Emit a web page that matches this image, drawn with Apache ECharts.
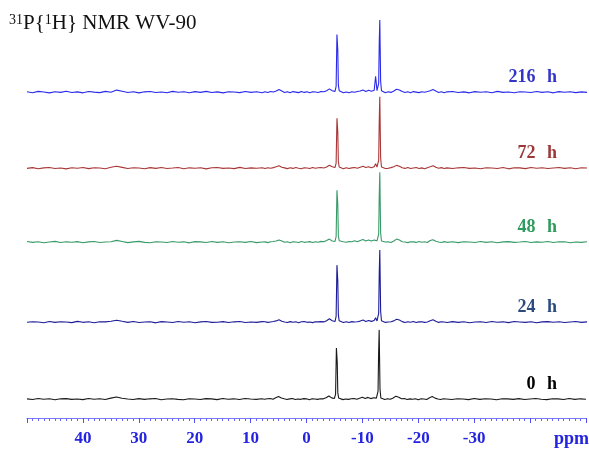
<!DOCTYPE html>
<html><head><meta charset="utf-8">
<script src="https://cdn.jsdelivr.net/npm/echarts@6/dist/echarts.min.js"></script>
<style>html,body{margin:0;padding:0;background:#fff}#c{width:589px;height:451px}</style>
</head><body><div id="c"></div>
<script>
// chemical shift sample positions (ppm)
const ppm = [
  50,49,48,47,46,45,44,43,42,41,40,39,38,37,36,35,34,33,32,31,30,29,28,27,26,25,24,23,22,21,20,19,18,17,16,15,14,13,12,11,10,9,8,
  7.5,7,6.5,6,5.5,5,4.5,4,3.5,3,2.5,2,1.5,1,0.5,0,-0.5,-1,-1.5,-2,-2.5,-3,
  -3.5,-4,-4.5,-5,-5.2,-5.35,-5.5,-5.6,-5.75,-6,-6.5,
  -7,-7.5,-8,-8.5,-9,-9.5,-10,-10.5,-11,-11.5,-12,
  -12.25,-12.5,-12.65,-12.8,-12.9,-13,-13.15,-13.3,-13.5,-14,
  -14.5,-15,-15.5,-16,-16.5,-17,-17.5,-18,-18.5,-19,-19.5,-20,-20.5,-21,-21.5,-22,-22.5,-23,-23.5,-24,-24.5,-25,
  -26,-27,-28,-29,-30,-31,-32,-33,-34,-35,-36,-37,-38,-39,-40,-41,-42,-43,-44,-45,-46,-47,-48,-49,-50
];
const spectrumLabels = ['216 h','72 h','48 h','24 h','0 h'];
const tickLabels = ['40','30','20','10','0','-10','-20','-30'];

const s216 = [
  0.5,-0.8,1,0.2,-1,0.6,-0.4,1.1,-0.6,0.3,-1,0.8,0,-0.7,1,-0.3,2.8,1.2,-0.5,0.6,-1,0.4,0.9,-0.6,0.2,-0.9,1,-0.2,0.5,-0.8,0.7,-0.4,1,-0.6,0.3,-1,0.6,0.1,-0.7,0.9,-0.3,0.5,-0.8,
  0.4,-0.6,0.8,0.2,1.6,3.5,1.4,-0.5,0.6,-0.9,0.7,0,-0.7,0.9,-0.4,0.5,-0.8,0.6,0.1,-0.6,0.8,0.5,
  2,4.5,2,1,8,80,58,10,2,-0.5,-1,
  0.2,-0.8,0.6,-0.3,0.8,1.5,3,1,2.5,1.2,2.5,
  22,2,3,12,68,100,15,2,0.5,-0.8,
  0.6,-0.4,1.5,4,3,0.8,-0.6,0.5,-0.9,0.7,0,-0.7,0.6,-0.3,0.8,2,3.5,1.4,-0.5,0.6,-0.8,0.4,
  0.9,-0.5,0.3,-1,0.7,-0.2,0.5,-0.8,1,-0.4,0.2,-0.9,0.6,0.1,-0.6,0.9,-0.3,0.4,-1,0.7,-0.2,0.5,-0.7,0.3,-0.4
];
const s72 = [
  -0.4,0.7,-0.9,0.3,0.8,-0.5,0.2,-1,0.6,-0.2,0.9,-0.7,0.4,0.1,-0.8,1.2,2.6,1,-0.6,0.5,0.2,-0.9,0.7,-0.3,0.8,-0.6,0.1,0.9,-0.8,0.4,-0.2,0.6,-1,0.5,0.8,-0.4,0.2,-0.7,1,-0.5,0.3,-0.2,0.6,
  -0.5,0.6,-0.2,0.7,1.8,3.2,1.2,0.3,-0.7,0.5,-0.4,0.8,-0.1,-0.8,0.6,0.2,-0.6,0.9,-0.3,0.4,0.9,0.2,
  1.5,4,1.8,0.8,7,69,50,9,1.5,-0.3,-0.8,
  0.5,-0.6,0.3,0.9,-0.2,1.2,2.5,0.8,2,0.6,1.8,
  6,1.5,2.5,11,66,99,14,1.5,0.3,-0.5,
  -0.3,0.7,1.8,3.8,2.6,0.5,-0.4,0.8,-0.6,0.2,0.9,-0.5,0.3,-0.8,0.6,1.8,3.2,1.2,-0.2,0.7,-0.6,0.3,
  -0.6,0.4,0.9,-0.3,0.2,-0.8,0.6,0.1,-0.5,0.8,-1,0.4,0.3,-0.7,0.9,-0.2,0.5,-0.6,0.2,0.8,-0.4,0.6,-0.9,0.4,0.1
];
const s48 = [
  0.8,-0.3,0.5,-0.9,0.2,1,-0.6,0.4,-0.2,0.7,-0.8,0.3,0.9,-0.5,0.1,0.6,2.4,0.9,-0.7,0.3,1,-0.4,-0.9,0.6,0.2,-0.5,0.8,-0.1,0.4,-1,0.7,0.3,-0.6,0.9,-0.3,0.5,-0.8,0.2,0.6,-0.4,0.9,-0.7,0.1,
  0.3,-0.7,0.5,0.9,1.5,3,1.6,-0.2,0.4,-0.8,0.6,0.1,-0.5,0.8,-0.3,0.2,0.7,-0.6,0.4,-0.2,1,0.4,
  2.2,4.2,1.6,1,7.5,72,52,9,2,-0.4,0.5,
  -0.3,0.8,0.4,1.8,0.5,2.2,3.5,1.5,3,1.4,2.8,
  5,1.8,3,11,65,97,13,1.6,0.4,0.2,
  0.5,-0.5,1.6,4.2,2.8,0.6,0.1,-0.7,0.6,0.3,-0.4,0.8,-0.2,0.5,-0.6,2.2,3.4,1.3,0.2,-0.5,0.7,-0.3,
  0.4,-0.7,0.6,0.2,-0.5,0.9,-0.3,0.5,-0.9,0.3,0.7,-0.4,0.1,0.8,-0.6,0.3,-0.2,0.9,-0.5,0.4,0.6,-0.8,0.2,-0.3,0.5
];
const s24 = [
  -0.2,0.6,0.1,-0.8,0.9,-0.4,0.5,0.2,-0.7,1,-0.3,0.4,-0.9,0.6,0.3,1.1,2.7,1.1,-0.4,0.8,-0.6,0.2,0.5,-1,0.7,0.1,-0.5,0.9,-0.2,0.6,-0.8,0.3,0.8,-0.4,-0.1,0.7,-0.6,0.4,0.9,-0.5,0.2,-0.3,0.7,
  0.6,-0.4,0.2,0.8,1.7,3.3,1.3,0.1,-0.6,0.7,-0.2,0.4,-0.8,0.5,0.9,-0.3,0.2,-0.7,0.6,0.3,0.7,0.3,
  2,4.6,2,0.8,8,79,57,10,1.8,-0.2,-0.6,
  0.4,-0.5,0.7,0.1,0.6,1.4,2.8,0.9,2.2,1,2.3,
  6,1.6,2.8,12,68,100,15,1.8,0.2,-0.4,
  0.2,0.6,1.7,3.9,2.9,0.7,-0.5,0.4,-0.3,0.8,-0.6,0.3,0.6,-0.4,0.2,1.9,3.3,1.2,-0.4,0.5,0.1,-0.6,
  0.7,-0.3,0.5,-0.8,0.2,0.6,-0.5,0.9,-0.1,0.4,-0.7,0.8,0.2,-0.4,0.6,-0.9,0.3,0.7,-0.2,0.5,-0.6,0.1,0.8,-0.4,0.3
];
const s0 = [
  0.3,-0.6,0.8,-0.1,0.5,-0.9,0.4,0.7,-0.4,0.2,-0.7,0.9,-0.2,0.5,-0.5,1.4,3,1.2,0.1,-0.6,0.7,-0.3,0.4,0.8,-0.8,0.2,0.6,-0.4,-0.9,0.5,0.1,-0.5,0.7,0.3,-0.7,0.9,-0.2,0.4,-0.6,0.8,0.1,-0.4,0.5,
  -0.3,0.5,0.9,-0.2,1.9,3.6,1.5,0.4,-0.5,0.3,0.8,-0.6,0.2,-0.3,0.7,0.4,-0.8,0.5,0.2,-0.4,0.6,0.4,
  1.8,4.4,1.7,0.9,7,71,51,9,1.6,-0.3,-0.7,
  0.2,-0.4,0.5,0.8,-0.1,1.3,2.6,1,2.4,0.7,2,
  4,1.4,2.6,11,64,96,14,1.6,0.3,-0.5,
  0.4,-0.3,1.5,4.1,2.7,0.4,0.9,-0.5,0.3,-0.2,0.6,-0.8,0.4,0.2,-0.5,2,3.6,1.4,0.1,-0.6,0.5,0.2,
  -0.5,0.6,0.2,-0.7,0.9,-0.3,0.4,0.1,-0.8,0.6,0.3,-0.4,0.7,-0.6,0.2,0.8,-0.2,-0.7,0.5,0.3,-0.5,0.9,-0.3,0.4,-0.1
];

const spectra = [s216, s72, s48, s24, s0];
const lineColors = ['#2a2aea', '#a83636', '#389a68', '#1c1c98', '#1a1a1a'];
const labelColors = ['#3434c8', '#9c3838', '#2e9a5e', '#2c4a7c', '#000000'];
const baselines = [92, 168, 242, 322, 399];
const axisBlue = '#2424e0';
const serif = '"Liberation Serif", "Times New Roman", serif';

const grids = [], xAxes = [], yAxes = [], series = [], graphics = [];
spectra.forEach((vals, i) => {
  const last = i === spectra.length - 1;
  grids.push({ left: 27, right: 2, top: baselines[i] - 72, height: 75 });
  xAxes.push({
    gridIndex: i, type: 'value', min: -50, max: 50, interval: 10, inverse: true,
    show: last, position: 'bottom', offset: last ? 16 : 0,
    axisLine: { show: true, onZero: false, lineStyle: { color: '#7a7aff', width: 1 } },
    axisTick: { show: true, length: 5, lineStyle: { color: '#5050f0' } },
    minorTick: { show: true, splitNumber: 10, length: 3, lineStyle: { color: '#6a6af4' } },
    splitLine: { show: false }, minorSplitLine: { show: false },
    axisLabel: {
      show: true, margin: 12, color: axisBlue, fontFamily: serif, fontWeight: 'bold', fontSize: 17,
      formatter: v => tickLabels.includes(String(v)) ? String(v) : ''
    }
  });
  yAxes.push({ gridIndex: i, type: 'value', min: -4, max: 100, show: false });
  series.push({
    type: 'line', xAxisIndex: i, yAxisIndex: i, showSymbol: false, symbol: 'none',
    clip: false, animation: false,
    lineStyle: { color: lineColors[i], width: 1.1 },
    data: ppm.map((p, k) => [p, vals[k]])
  });
  const parts = spectrumLabels[i].split(' ');
  graphics.push({
    type: 'text', right: 32, top: baselines[i] - 24,
    style: {
      text: parts[0] + ' {h|' + parts[1] + '}',
      font: 'bold 18px ' + serif, fill: labelColors[i],
      rich: { h: { fontFamily: serif, fontWeight: 'bold', fontSize: 18, color: labelColors[i], padding: [0, 0, 0, 7] } }
    }
  });
});

graphics.push({
  type: 'text', left: 9, top: 13,
  style: {
    text: '{s|31}P{{s|1}H} NMR WV-90',
    font: '21px ' + serif, fill: '#111',
    rich: { s: { fontFamily: serif, fontSize: 14, verticalAlign: 'top', color: '#111' } }
  }
});
graphics.push({
  type: 'text', left: 554, top: 430,
  style: { text: 'ppm', font: 'bold 18px ' + serif, fill: axisBlue }
});

const chart = echarts.init(document.getElementById('c'), null, { renderer: 'canvas' });
chart.setOption({
  animation: false,
  backgroundColor: '#ffffff',
  grid: grids, xAxis: xAxes, yAxis: yAxes, series: series,
  graphic: graphics
});
</script>
</body></html>
